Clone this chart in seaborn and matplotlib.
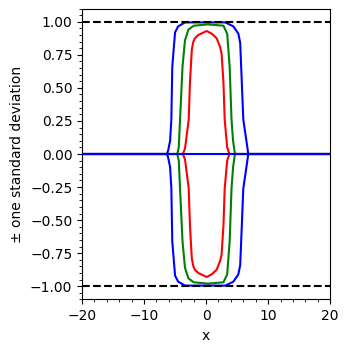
import numpy as np
import pandas as pd
import matplotlib
matplotlib.use("Agg")
import matplotlib.pyplot as plt
import seaborn as sns
from matplotlib.ticker import AutoMinorLocator

# standard deviation profiles (x, std)
x_red = [-20, -3.75, -3.4, -2.8, -2.6, -2.3, -2.05, -1.8, -1.25, 0.1, 0.9, 1.7, 2.25, 2.5, 2.8, 3.0, 3.4, 3.75, 20]
std_red = [0, 0, 0.04, 0.26, 0.54, 0.79, 0.85, 0.875, 0.90, 0.93, 0.91, 0.875, 0.81, 0.76, 0.54, 0.26, 0.05, 0, 0]

x_green = [-20, -4.65, -4.4, -4.2, -3.8, -3.4, -2.85, -2.0, 0.3, 2.8, 3.4, 3.8, 4.1, 4.35, 4.65, 20]
std_green = [0, 0, 0.05, 0.26, 0.66, 0.86, 0.94, 0.97, 0.98, 0.97, 0.91, 0.66, 0.26, 0.1, 0, 0]

x_blue = [-20, -6.3, -6.1, -5.8, -5.6, -5.45, -5.0, -4.5, -3.4, 3.1, 4.4, 5.2, 5.5, 6.0, 6.5, 6.8, 20]
std_blue = [0, 0, 0.03, 0.1, 0.26, 0.66, 0.92, 0.965, 0.995, 0.995, 0.965, 0.91, 0.84, 0.26, 0.1, 0, 0]

x_mean = [-20, 20]
mean = [0, 0]

fig = plt.figure(figsize=(3.49, 3.51), dpi=100)
ax = fig.add_axes([0.235, 0.14675, 0.711, 0.829])

for xs, s, c in [(x_red, std_red, "r"), (x_green, std_green, "g"), (x_blue, std_blue, "b")]:
    s = np.array(s)
    sns.lineplot(x=xs, y=s, color=c, lw=1.5, ax=ax)
    sns.lineplot(x=xs, y=-s, color=c, lw=1.5, ax=ax)

# mean line on top
sns.lineplot(x=x_mean, y=mean, color="b", lw=1.5, zorder=3, ax=ax)
ax.axhline(1, color="k", ls="--", lw=1.5)
ax.axhline(-1, color="k", ls="--", lw=1.5)

ax.set_xlim(-20, 20)
ax.set_ylim(-1.1, 1.1)
ax.set_xticks([-20, -10, 0, 10, 20])
ax.set_yticks([-1.0, -0.75, -0.5, -0.25, 0, 0.25, 0.5, 0.75, 1.0])
ax.xaxis.set_minor_locator(AutoMinorLocator())
ax.yaxis.set_minor_locator(AutoMinorLocator())
ax.set_xlabel("x")
ax.set_ylabel("± one standard deviation")

plt.savefig("out.png", dpi=100)
